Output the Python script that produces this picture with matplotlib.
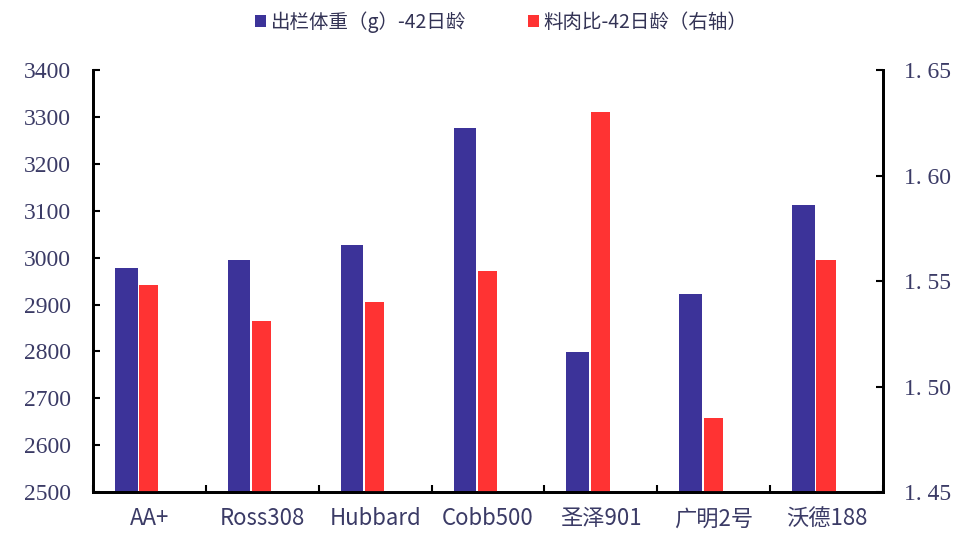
import numpy as np
import matplotlib.pyplot as plt
from matplotlib.ticker import FixedLocator

plt.rcParams['font.family'] = ['Noto Sans CJK SC', 'DejaVu Sans']

breeds = ['AA+', 'Ross308', 'Hubbard', 'Cobb500', '圣泽901', '广明2号', '沃德188']
weight = [2978, 2996, 3027, 3277, 2798, 2923, 3112]
fcr = [1.548, 1.531, 1.540, 1.555, 1.630, 1.485, 1.560]

left_ticks = [2500, 2600, 2700, 2800, 2900, 3000, 3100, 3200, 3300, 3400]
left_labels = ['2500', '2600', '2700', '2800', '2900', '3000', '3100', '3200', '3300', '3400']
right_ticks = [1.45, 1.50, 1.55, 1.60, 1.65]
right_labels = ['1. 45', '1. 50', '1. 55', '1. 60', '1. 65']

blue = '#3c3399'
red = '#ff3333'
label_color = '#3b3b66'

fig = plt.figure(figsize=(9.64, 5.36), dpi=100)
ax = fig.add_axes([0.0965, 0.082, 0.8195, 0.787])
ax2 = ax.twinx()

x = np.arange(len(breeds))
b1 = ax.bar(x - 0.205, weight, width=0.2, color=blue, label='出栏体重（g）-42日龄', zorder=2)
b2 = ax2.bar(x - 0.005, fcr, width=0.17, color=red, label='料肉比-42日龄（右轴）', zorder=2)

ax.set_xlim(-0.5, len(breeds) - 0.5)
ax.set_ylim(2500, 3400)
ax2.set_ylim(1.45, 1.65)

ax.set_yticks(left_ticks)
ax.set_yticklabels(left_labels, family='Liberation Serif', fontsize=17, color=label_color)
ax2.set_yticks(right_ticks)
ax2.set_yticklabels(right_labels, family='Liberation Serif', fontsize=17, color=label_color)

# category labels centred, tick marks on the boundaries
ax.set_xticks(x)
ax.set_xticklabels(breeds, fontsize=16, color=label_color)
ax.tick_params(axis='x', length=0, pad=11)
ax.xaxis.set_minor_locator(FixedLocator(np.arange(-0.5, len(breeds), 1.0)))
ax.tick_params(axis='x', which='minor', direction='in', length=5, width=1.5)

ax.tick_params(axis='y', direction='in', length=5, width=1.5, pad=16)
ax2.tick_params(axis='y', direction='in', length=5, width=1.5, pad=15)

for a in (ax, ax2):
    a.spines['top'].set_visible(False)
    for s in ('left', 'right', 'bottom'):
        a.spines[s].set_linewidth(2)
        a.spines[s].set_color('black')

fig.legend(handles=[b1, b2], loc='upper center', bbox_to_anchor=(0.52, 1.012), ncol=2,
           frameon=False, fontsize=14, handlelength=0.55, handleheight=0.55,
           handletextpad=0.25, columnspacing=3.2, labelcolor='#333355')

fig.savefig('out.png', dpi=100)
